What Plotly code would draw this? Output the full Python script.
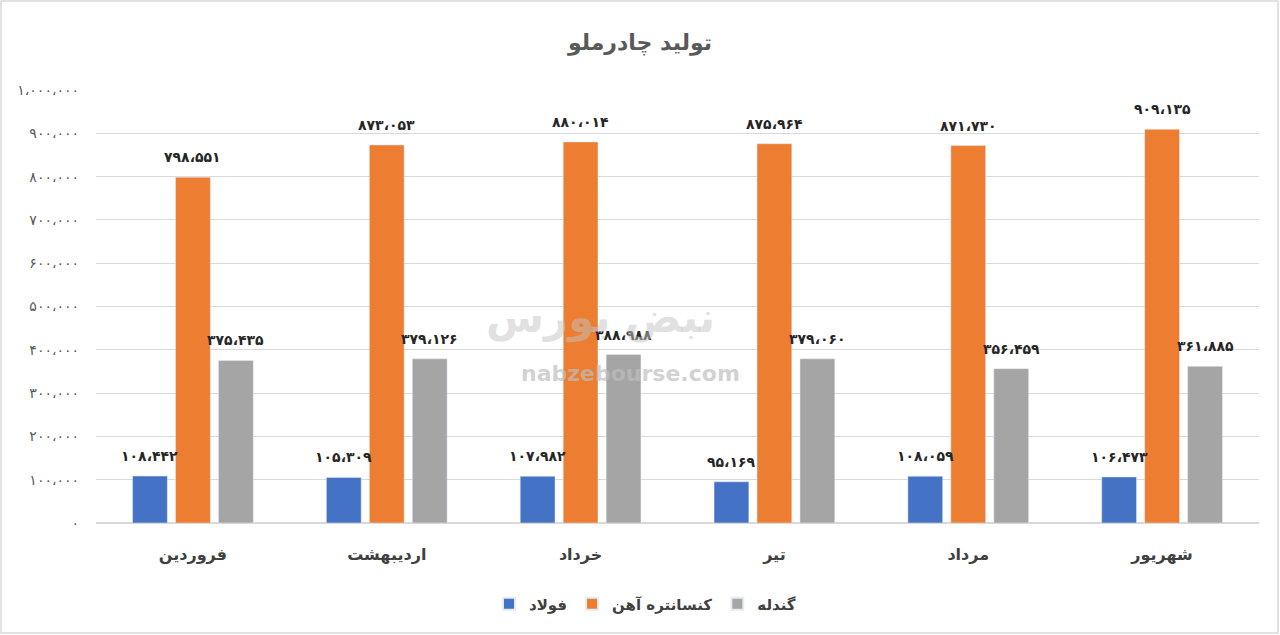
import plotly.graph_objects as go

categories = ["فروردین", "اردیبهشت", "خرداد", "تیر", "مرداد", "شهریور"]
series_names = ["فولاد", "کنسانتره آهن", "گندله"]
steel = [108442, 105309, 107982, 95169, 108059, 106473]
concentrate = [798551, 873053, 880014, 875964, 871730, 909135]
pellet = [375435, 379126, 388988, 379060, 356459, 361885]
tick_values = [0, 100000, 200000, 300000, 400000, 500000, 600000, 700000, 800000, 900000, 1000000]
colors = ["#4472C4", "#ED7D31", "#A5A5A5"]

FA = str.maketrans("0123456789,", "۰۱۲۳۴۵۶۷۸۹،")


def fa(n):
    return f"{n:,}".translate(FA)


W, H = 1280, 635
L, R, T, B = 96, 21, 90, 112
PW, PH = W - L - R, H - T - B

fig = go.Figure()
all_series = [steel, concentrate, pellet]
for name, vals, col in zip(series_names, all_series, colors):
    fig.add_trace(go.Bar(
        x=categories, y=vals, name="<b>" + name + "</b>", marker_color=col,
        hoverinfo="x+y",
    ))

# data labels placed above each bar (Excel "outside end" look)
slot = 43  # px between adjacent bar centres within a group
for i, vals in enumerate(all_series):
    for c, v in zip(categories, vals):
        fig.add_annotation(x=c, y=v, text="<b>" + fa(v) + "</b>", showarrow=False,
                           xshift=(i - 1) * slot, yshift=10, yanchor="bottom",
                           font=dict(size=14, color="#262626", family="DejaVu Sans"))

fig.update_layout(
    width=W, height=H,
    margin=dict(l=L, r=R, t=T, b=B),
    paper_bgcolor="white", plot_bgcolor="white",
    barmode="group", bargap=0.335, bargroupgap=0.19,
    title=dict(text="<b>تولید چادرملو</b>", x=0.5, xanchor="center",
               y=1 - 42 / H, yanchor="middle",
               font=dict(size=22, color="#595959", family="DejaVu Sans")),
    legend=dict(orientation="h", x=(645 - L) / PW, xanchor="center", y=-(604 - (H - B)) / PH,
                yanchor="middle", font=dict(size=15, color="#404040", family="DejaVu Sans"),
                itemsizing="constant", traceorder="normal", itemwidth=30),
    yaxis=dict(range=[0, 1000000], tickvals=tick_values,
               ticktext=[fa(v) for v in tick_values],
               showgrid=True, gridcolor="#D9D9D9", gridwidth=1,
               zeroline=True, zerolinecolor="#D9D9D9",
               tickfont=dict(size=14, color="#595959", family="DejaVu Sans"),
               ticks="", ticklabelstandoff=16, fixedrange=True),
    xaxis=dict(tickfont=dict(size=16, color="#404040", family="DejaVu Sans"),
               showline=False, ticks="", ticklabelstandoff=20,
               tickprefix="<b>", ticksuffix="</b>", fixedrange=True),
    showlegend=True,
)

# watermark
fig.add_annotation(text="<b>nabzebourse.com</b>", xref="paper", yref="paper",
                   x=(630 - L) / PW, y=1 - (373 - T) / PH,
                   showarrow=False, font=dict(size=22, color="rgba(190,190,190,0.7)", family="DejaVu Sans"))
fig.add_annotation(text="<b>نبض بورس</b>", xref="paper", yref="paper",
                   x=(600 - L) / PW, y=1 - (318 - T) / PH,
                   showarrow=False, font=dict(size=42, color="rgba(195,195,195,0.5)", family="DejaVu Sans"))

# outer border
fig.add_shape(type="rect", xref="paper", yref="paper",
              x0=-(L - 1) / PW, x1=1 + (R - 2) / PW,
              y0=-(B - 2) / PH, y1=1 + (T - 1) / PH,
              line=dict(color="#D9D9D9", width=1.5), layer="below")

fig.write_html("out.html", config={"displayModeBar": False},
               post_script="document.body.style.margin='0';document.body.style.padding='0';"
                           "document.body.style.overflow='hidden';")
